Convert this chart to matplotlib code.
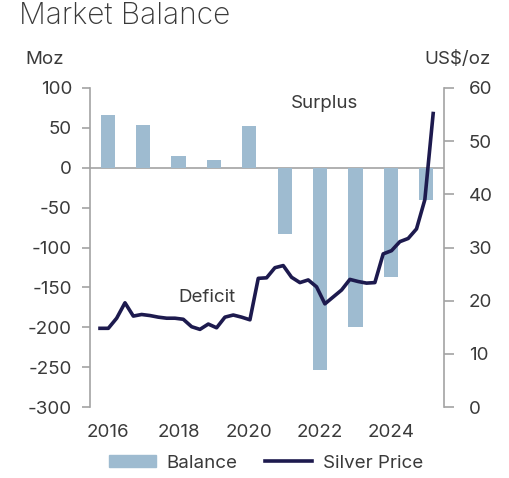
import matplotlib
matplotlib.use("Agg")
import matplotlib.pyplot as plt
from matplotlib.lines import Line2D
from matplotlib.patches import Patch

plt.rcParams["font.family"] = ["Inter", "DejaVu Sans"]
plt.rcParams["axes.unicode_minus"] = False

# annual market balance, Moz
years = [2016, 2017, 2018, 2019, 2020, 2021, 2022, 2023, 2024, 2025]
balance = [66, 53, 15, 10, 52, -83, -253, -200, -137, -40]

# quarterly silver price, US$/oz (Q4 2015 .. Q4 2025)
quarters = [
    "Q4-15",
    "Q1-16", "Q2-16", "Q3-16", "Q4-16",
    "Q1-17", "Q2-17", "Q3-17", "Q4-17",
    "Q1-18", "Q2-18", "Q3-18", "Q4-18",
    "Q1-19", "Q2-19", "Q3-19", "Q4-19",
    "Q1-20", "Q2-20", "Q3-20", "Q4-20",
    "Q1-21", "Q2-21", "Q3-21", "Q4-21",
    "Q1-22", "Q2-22", "Q3-22", "Q4-22",
    "Q1-23", "Q2-23", "Q3-23", "Q4-23",
    "Q1-24", "Q2-24", "Q3-24", "Q4-24",
    "Q1-25", "Q2-25", "Q3-25", "Q4-25",
]
price = [
    14.8,
    14.8, 16.7, 19.6, 17.1,
    17.4, 17.2, 16.9, 16.7,
    16.7, 16.5, 15.1, 14.6,
    15.6, 14.9, 16.9, 17.3,
    16.9, 16.4, 24.2, 24.3,
    26.2, 26.6, 24.4, 23.4,
    23.9, 22.6, 19.4, 20.7,
    22.0, 24.0, 23.6, 23.3,
    23.4, 28.8, 29.4, 31.1,
    31.7, 33.5, 39.0, 55.2,
]

BAR_C = "#9ebbd0"
LINE_C = "#1d1a4e"
TEXT_C = "#3a3a3a"
SPINE_C = "#a3a3a3"
FS = 13.5

fig = plt.figure(figsize=(5.10, 4.78), dpi=100)
rect = [90 / 510, 1 - 407 / 478, 354 / 510, 319 / 478]

ax = fig.add_axes(rect)
ax.bar(years, balance, width=0.4, color=BAR_C, zorder=2)
ax.axhline(0, color=SPINE_C, linewidth=1.2, zorder=1)
ax.set_xlim(2015.5, 2025.5)
ax.set_ylim(-300, 100)
ax.set_yticks(range(-300, 101, 50))
ax.set_xticks([2016, 2018, 2020, 2022, 2024])
ax.tick_params(axis="y", direction="out", length=6, width=1.2, color=SPINE_C,
               labelsize=FS, labelcolor=TEXT_C, pad=7)
ax.tick_params(axis="x", length=0, labelsize=FS, labelcolor=TEXT_C, pad=12)
for s in ["top", "right", "bottom"]:
    ax.spines[s].set_visible(False)
ax.spines["left"].set_color(SPINE_C)
ax.spines["left"].set_linewidth(1.2)

# price line on its own quarterly x scale, right-hand axis
axp = fig.add_axes(rect)
axp.patch.set_visible(False)
axp.plot(range(len(quarters)), price, color=LINE_C, linewidth=2.6,
         solid_joinstyle="round", zorder=3)
axp.set_xlim(-1.2, 41.3)
axp.set_ylim(0, 60)
axp.set_xticks([])
axp.yaxis.tick_right()
axp.set_yticks(range(0, 61, 10))
axp.tick_params(axis="y", direction="out", length=7, width=1.2, color=SPINE_C,
                labelsize=FS, labelcolor=TEXT_C, pad=11)
for s in ["top", "left", "bottom"]:
    axp.spines[s].set_visible(False)
axp.spines["right"].set_color(SPINE_C)
axp.spines["right"].set_linewidth(1.2)

fig.text(19 / 510, 1 - 16 / 478, "Market Balance", fontsize=21.5, color=TEXT_C,
         ha="left", va="center", fontweight="light")
fig.text(45 / 510, 1 - 59 / 478, "Moz", fontsize=FS, color=TEXT_C,
         ha="center", va="center")
fig.text(458 / 510, 1 - 59 / 478, "US$/oz", fontsize=FS, color=TEXT_C,
         ha="center", va="center")
fig.text(324 / 510, 1 - 103 / 478, "Surplus", fontsize=FS, color=TEXT_C,
         ha="center", va="center")
fig.text(207 / 510, 1 - 297 / 478, "Deficit", fontsize=FS, color=TEXT_C,
         ha="center", va="center")

handles = [Patch(color=BAR_C, label="Balance"),
           Line2D([], [], color=LINE_C, linewidth=2.6, label="Silver Price")]
fig.legend(handles=handles, loc="center", bbox_to_anchor=(266 / 510, 1 - 463 / 478),
           ncol=2, frameon=False, fontsize=FS, labelcolor=TEXT_C,
           handlelength=2.5, handleheight=0.65, columnspacing=1.5, handletextpad=0.55)

fig.savefig("out.png", dpi=100)
